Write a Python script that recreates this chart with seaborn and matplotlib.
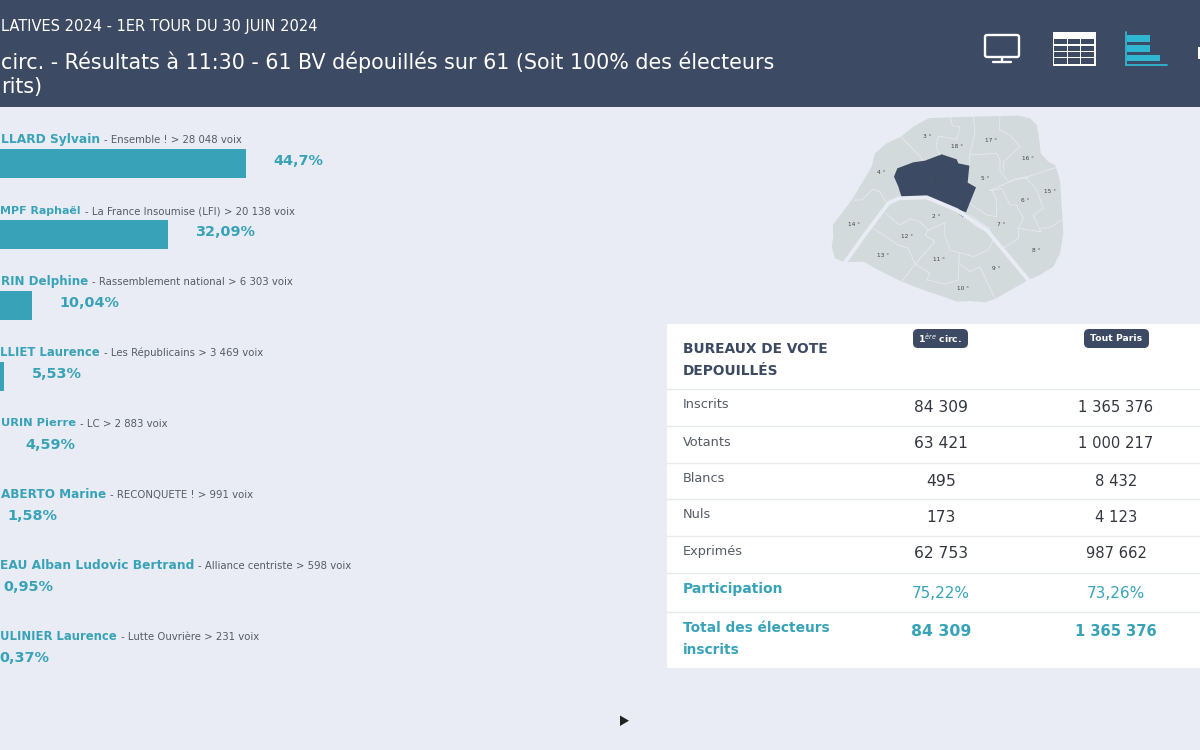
import matplotlib
matplotlib.use("Agg")
import matplotlib.pyplot as plt
from matplotlib.patches import Rectangle, FancyBboxPatch, Polygon
import pandas as pd
import seaborn as sns

# ---------- data ----------
names = ["LLARD Sylvain", "MPF Raphaël", "RIN Delphine", "LLIET Laurence",
         "URIN Pierre", "ABERTO Marine", "EAU Alban Ludovic Bertrand", "ULINIER Laurence"]
parties = ["Ensemble !", "La France Insoumise (LFI)", "Rassemblement national", "Les Républicains",
           "LC", "RECONQUETE !", "Alliance centriste", "Lutte Ouvrière"]
votes = ["28 048", "20 138", "6 303", "3 469", "2 883", "991", "598", "231"]
pct = [44.7, 32.09, 10.04, 5.53, 4.59, 1.58, 0.95, 0.37]
pct_labels = ["44,7%", "32,09%", "10,04%", "5,53%", "4,59%", "1,58%", "0,95%", "0,37%"]

row_labels = ["Inscrits", "Votants", "Blancs", "Nuls", "Exprimés"]
circ_vals = ["84 309", "63 421", "495", "173", "62 753"]
paris_vals = ["1 365 376", "1 000 217", "8 432", "4 123", "987 662"]
participation = ["75,22%", "73,26%"]
total_electeurs = ["84 309", "1 365 376"]

title_small = "LATIVES 2024 - 1ER TOUR DU 30 JUIN 2024"
title_l1 = "circ. - Résultats à 11:30 - 61 BV dépouillés sur 61 (Soit 100% des électeurs"
title_l2 = "rits)"

# map of Paris: outline and boundaries
map_outline = [(385,355),(450,352),(520,350),(600,348),(655,347),(690,355),(710,375),(718,420),(722,460),
    (745,485),(765,495),(768,503),(780,540),(785,620),(788,660),(790,700),(780,760),(760,800),(720,825),
    (685,840),(650,860),(585,897),(555,907),(510,903),(470,905),(430,890),(370,870),(305,845),(245,815),
    (190,785),(135,787),(105,775),(95,740),(100,710),(98,675),(125,640),(155,600),(185,550),(215,500),
    (225,460),(260,430),(303,410),(340,380)]
map_selected = [(292,505),(340,487),(375,482),(425,463),(470,478),(475,490),(508,497),(503,548),(528,562),
    (498,637),(380,592),(305,592),(295,560),(282,530)]
map_islet = [(475,640),(495,645),(490,652)]
map_seine = [(135,787),(190,710),(265,610),(295,595),(380,592),(470,630),(560,690),(685,840)]
map_borders = [
    [(303,410),(370,480)],
    [(450,352),(458,378),(480,380),(470,418),(415,408),(408,440),(420,465)],
    [(520,350),(525,400),(510,460),(508,495)],
    [(510,465),(590,460),(600,480),(600,512),(625,545)],
    [(600,348),(598,390),(630,405),(660,440),(610,485),(612,515)],
    [(625,545),(700,525),(765,503)],
    [(570,572),(650,535),(685,532)],
    [(655,535),(680,535),(710,570),(730,625),(700,645),(722,695)],
    [(570,572),(605,565),(630,615),(650,615),(670,655),(655,685),(722,695)],
    [(575,570),(590,600),(590,650),(560,645),(510,610)],
    [(655,685),(655,715),(610,745)],
    [(722,685),(750,683),(788,658)],
    [(250,635),(300,675),(330,657),(360,665),(385,690),(435,668),(432,700),(450,750),(520,770),(565,750),(580,720)],
    [(220,685),(295,735),(325,745),(345,792),(405,725),(375,705),(385,690)],
    [(345,792),(390,820),(380,840),(435,852),(475,840),(478,760)],
    [(478,790),(510,815),(540,800),(585,897)],
    [(345,792),(305,845)],
    [(160,600),(185,600),(218,568),(240,575),(262,615)],
    [(510,645),(545,670),(568,685),(568,695)],
    [(495,650),(530,680),(560,695)],
]
map_labels = {"3":(382,408),"18":(472,441),"17":(573,420),"16":(683,474),"4":(243,516),"1":(415,545),
    "5":(555,537),"15":(750,574),"6":(677,601),"2":(408,648),"7":(605,674),"14":(163,674),"12":(320,708),
    "8":(708,750),"13":(250,766),"11":(417,778),"9":(588,804),"10":(488,866)}

# ---------- colours and layout ----------
NAVY = "#3D4A63"; BG = "#E9ECF4"; TEAL = "#38A3B8"; GREY = "#555B66"; DARK = "#333840"
MAPC = "#D3DADB"; LINE = "#E8EBEE"; CYAN = "#2FB6D0"
name_end = [100, 81, 88, 100, 76, 106, 194, 117]

sns.set_theme(style="white")
plt.rcParams["font.family"] = ["DejaVu Sans"]

fig = plt.figure(figsize=(12, 7.5), dpi=100, facecolor=BG)

# pixel-space layer for the dashboard furniture
bg = fig.add_axes([0, 0, 1, 1], zorder=0)
bg.set_xlim(0, 1200); bg.set_ylim(750, 0); bg.axis("off")

def T(x, y, s, size, color=DARK, weight="normal", ha="left", va="center", ax=bg):
    return ax.text(x, y, s, fontsize=size, color=color, fontweight=weight, ha=ha, va=va)

# header
bg.add_patch(Rectangle((0, 0), 1200, 107, fc=NAVY, ec="none"))
T(1, 27, title_small, 10.5, "white")
T(1, 62, title_l1, 14.85, "white")
T(1, 87, title_l2, 14.85, "white")

# header icons
bg.add_patch(FancyBboxPatch((985, 35), 34, 22, boxstyle="round,pad=0,rounding_size=2", fc="none", ec="white", lw=1.7))
bg.plot([1002, 1002], [57, 61], color="white", lw=1.7)
bg.plot([993, 1011], [61.7, 61.7], color="white", lw=1.7)
bg.add_patch(Rectangle((1052.5, 32), 43, 34, fc="white", ec="none"))
for cx in (1054, 1067.6, 1081):
    for cy in (39, 45.6, 51.8, 58.2):
        bg.add_patch(Rectangle((cx, cy), 12.8, 5.3, fc=NAVY, ec="none"))
bg.plot([1125.5, 1125.5], [32, 65], color=CYAN, lw=1.3)
bg.plot([1125.5, 1167], [64.5, 64.5], color=CYAN, lw=1.3)
for by, bw in ((35, 23), (45, 23), (54.5, 33.5)):
    bg.add_patch(Rectangle((1126.5, by), bw, 6.8, fc=CYAN, ec="none"))
bg.add_patch(Rectangle((1197.5, 47), 3, 12, fc="white", ec="none"))

# map
def zoom_px(pts):
    return [(800 + x / 3, y / 3) for x, y in pts]

bg.add_patch(Polygon(zoom_px(map_outline), closed=True, fc=MAPC, ec="none"))
for b in map_borders:
    p = zoom_px(b)
    bg.plot([a[0] for a in p], [a[1] for a in p], color=BG, lw=0.5, solid_joinstyle="round")
p = zoom_px(map_seine)
bg.plot([a[0] for a in p], [a[1] for a in p], color=BG, lw=2.8, solid_joinstyle="round")
bg.add_patch(Polygon(zoom_px(map_selected), closed=True, fc=NAVY, ec="none"))
bg.add_patch(Polygon(zoom_px(map_islet), closed=True, fc=NAVY, ec="none"))
for k, (x, y) in map_labels.items():
    T(800 + x / 3, y / 3, k + " °", 4.2, "#444444", ha="center")

# results table
bg.add_patch(Rectangle((667, 324), 533, 344, fc="white", ec="none"))
for ly in (389, 426, 463, 499, 536, 573, 612):
    bg.plot([667, 1200], [ly, ly], color=LINE, lw=1)
T(683, 349, "BUREAUX DE VOTE", 9.9, NAVY, "bold")
T(683, 371, "DEPOUILLÉS", 9.9, NAVY, "bold")
for x0, x1, s in ((913, 968, "1$^{ère}$ circ."), (1084, 1149, "Tout Paris")):
    bg.add_patch(FancyBboxPatch((x0, 329), x1 - x0, 19, boxstyle="round,pad=0,rounding_size=5", fc=NAVY, ec="none"))
    T((x0 + x1) / 2, 338.5, s, 6.7, "white", "bold", ha="center")
row_y = [407, 444, 481, 517, 554]
for i, lab in enumerate(row_labels):
    T(683, row_y[i] - 2, lab, 9.3, GREY)
    T(941, row_y[i], circ_vals[i], 11.2, DARK, ha="center")
    T(1116, row_y[i], paris_vals[i], 10.6, DARK, ha="center")
T(683, 589, "Participation", 10, TEAL, "bold")
T(941, 593, participation[0], 11, TEAL, ha="center")
T(1116, 593, participation[1], 11, TEAL, ha="center")
T(683, 628, "Total des électeurs", 9.9, TEAL, "bold")
T(683, 650, "inscrits", 9.9, TEAL, "bold")
T(941, 632, total_electeurs[0], 11.3, TEAL, "bold", ha="center")
T(1116, 632, total_electeurs[1], 10.6, TEAL, "bold", ha="center")

# play marker
bg.add_patch(Polygon([(620, 715.5), (620, 726), (629, 720.7)], closed=True, fc="#222222", ec="none"))

# bar chart: x scale 6.17 px per percent, zero at -30 px; bars spaced 71 px from y=163.5
ax = fig.add_axes([0, 0, 660 / 1200, 643 / 750], zorder=1)
ax.patch.set_alpha(0)
df = pd.DataFrame({"candidat": names, "pct": pct})
sns.barplot(data=df, y="candidat", x="pct", color=TEAL, saturation=1, width=0.405, linewidth=0, ax=ax, orient="h")
ax.set_xlim(30 / 6.17, 690 / 6.17)
ax.set_ylim((750 - 163.5) / 71, (107 - 163.5) / 71)
ax.axis("off")
for i, v in enumerate(pct):
    ax.annotate(pct_labels[i], (v, i), xytext=(27.5 * 0.72, 2.5 * 0.72), textcoords="offset points",
                fontsize=10.4, fontweight="bold", color=TEAL, va="center", ha="left", annotation_clip=False)

renderer = fig.canvas.get_renderer()
for i in range(len(names)):
    y = 139.5 + 71 * i
    t = T(name_end[i], y, names[i], 8.9, TEAL, "bold", ha="right")
    width = t.get_window_extent(renderer).width
    if width > name_end[i] - 1:  # shrink a touch so the name stays inside the picture
        t.set_fontsize(8.9 * (name_end[i] - 1) / width)
    T(name_end[i] + 4, y + 0.5, f"- {parties[i]} > {votes[i]} voix", 7.25, GREY)

fig.savefig("out.png", dpi=100, facecolor=BG)
